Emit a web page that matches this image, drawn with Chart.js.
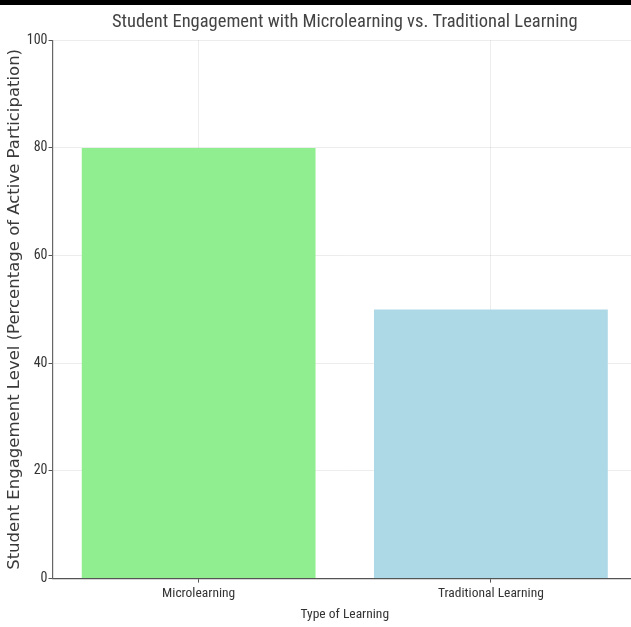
<!DOCTYPE html>
<html>
<head>
<meta charset="utf-8">
<script src="https://cdn.jsdelivr.net/npm/chart.js"></script>
<style>
    html, body { margin: 0; padding: 0; background: #fff; overflow: hidden; }
    #wrap { position: relative; width: 689px; height: 627px; }
    #topbar { position: absolute; left: 0; top: 0; width: 689px; height: 5px; background: #000; }
</style>
</head>
<body>
<div id="wrap">
    <canvas id="myChart" width="689" height="627"></canvas>
    <div id="topbar"></div>
</div>

<script>
    // Datos del gráfico
    var categories = ['Microlearning', 'Traditional Learning'];
    var engagement = [80, 50];
    var barColors = ['#90EE90', '#ADD8E6'];
    var yTicks = [0, 20, 40, 60, 80, 100];

    var narrow = "'Roboto Condensed', 'Liberation Sans Narrow', sans-serif";

    var ctx = document.getElementById('myChart').getContext('2d');
    var myChart = new Chart(ctx, {
        type: 'bar',
        data: {
            labels: categories,
            datasets: [{
                label: 'Engagement',
                data: engagement,
                backgroundColor: barColors,
                borderWidth: 0,
                barPercentage: 0.8,
                categoryPercentage: 1.0
            }]
        },
        options: {
            responsive: false,
            animation: false,
            layout: { padding: { left: 5, right: 52, top: 4, bottom: 4 } },
            plugins: {
                legend: { display: false },
                tooltip: { enabled: false },
                title: {
                    display: true,
                    fullSize: false,
                    text: 'Student Engagement with Microlearning vs. Traditional Learning',
                    color: '#444',
                    font: { family: narrow, size: 18.5, weight: 'normal' },
                    padding: { top: 7, bottom: 7 }
                }
            },
            scales: {
                x: {
                    grid: {
                        offset: false,
                        color: 'rgba(0,0,0,0.07)',
                        tickColor: '#555',
                        tickLength: 4
                    },
                    border: { color: '#555', width: 1.2 },
                    ticks: {
                        color: '#333',
                        font: { family: narrow, size: 13.5 },
                        padding: 3
                    },
                    title: {
                        display: true,
                        text: 'Type of Learning',
                        color: '#333',
                        font: { family: narrow, size: 13.5 },
                        padding: { top: 2, bottom: 0 }
                    }
                },
                y: {
                    min: 0,
                    max: 100,
                    afterBuildTicks: function(axis) {
                        axis.ticks = yTicks.map(function(v) { return { value: v }; });
                    },
                    grid: {
                        color: 'rgba(0,0,0,0.07)',
                        tickColor: '#555',
                        tickLength: 4
                    },
                    border: { color: '#666', width: 1.2 },
                    ticks: {
                        color: '#333',
                        font: { family: narrow, size: 14 },
                        padding: 1
                    },
                    title: {
                        display: true,
                        text: 'Student Engagement Level (Percentage of Active Participation)',
                        color: '#3a3a3a',
                        font: { family: 'DejaVu Sans', size: 16.5 },
                        padding: { top: 0, bottom: 1 }
                    }
                }
            }
        }
    });
</script>
</body>
</html>
